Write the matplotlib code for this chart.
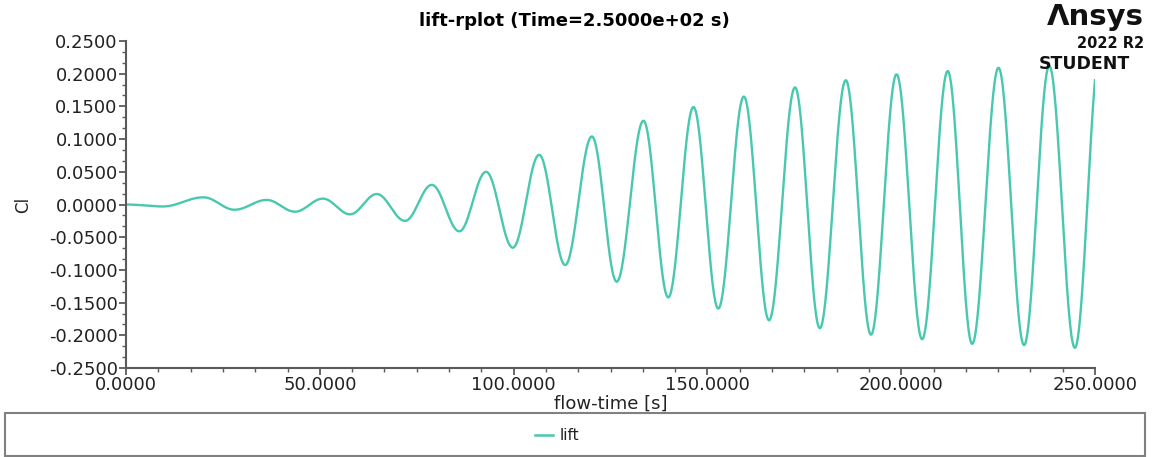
import numpy as np
import matplotlib.pyplot as plt
from matplotlib.patches import Rectangle
from matplotlib.lines import Line2D
from matplotlib.ticker import MultipleLocator, FormatStrFormatter

# extrema of the lift coefficient (time [s], Cl)
ext_time = [0.0, 9.5, 20.0, 28.0, 36.3, 43.6, 50.8, 57.8, 64.7, 72.0, 78.9,
            86.0, 92.9, 99.8, 106.6, 113.3, 120.2, 126.6, 133.5, 139.9, 146.4,
            152.8, 159.4, 165.9, 172.6, 179.0, 185.7, 192.2, 198.8, 205.4,
            212.0, 218.3, 225.1, 231.7, 238.2, 244.8]
ext_cl = [0.0, -0.003, 0.011, -0.008, 0.007, -0.011, 0.009, -0.015, 0.016,
          -0.025, 0.030, -0.041, 0.050, -0.066, 0.076, -0.0925, 0.104, -0.118,
          0.128, -0.142, 0.149, -0.159, 0.165, -0.177, 0.179, -0.189, 0.190,
          -0.199, 0.199, -0.206, 0.204, -0.213, 0.209, -0.215, 0.212, -0.219]
end_time = 250.0
end_cl = 0.190

LINE = "#48c8ae"
AXC = "#5a5a5a"


def smooth_path(ts, vs, t_end, v_end, n=60):
    # join consecutive extrema with half-cosine arcs
    xs, ys = [], []
    for i in range(len(ts) - 1):
        f = np.linspace(0, 1, n, endpoint=False)
        xs.append(ts[i] + f * (ts[i + 1] - ts[i]))
        ys.append(vs[i] + (vs[i + 1] - vs[i]) * (1 - np.cos(np.pi * f)) / 2)
    # last piece stops part way up the next rise
    half = ts[-1] - ts[-2]
    f_end = (t_end - ts[-1]) / half
    lo = vs[-1]
    hi = lo + (v_end - lo) * 2 / (1 - np.cos(np.pi * f_end))
    f = np.linspace(0, f_end, n)
    xs.append(ts[-1] + f * half)
    ys.append(lo + (hi - lo) * (1 - np.cos(np.pi * f)) / 2)
    return np.concatenate(xs), np.concatenate(ys)


x, y = smooth_path(ext_time, ext_cl, end_time, end_cl)

fig = plt.figure(figsize=(11.53, 4.57), dpi=100)
ax = fig.add_axes([0.1093, 0.1947, 0.8404, 0.7156])
ax.plot(x, y, color=LINE, linewidth=1.7)

ax.set_xlim(0, 250)
ax.set_ylim(-0.25, 0.25)
ax.xaxis.set_major_locator(MultipleLocator(50))
ax.xaxis.set_minor_locator(MultipleLocator(50 / 6))
ax.yaxis.set_major_locator(MultipleLocator(0.05))
ax.yaxis.set_minor_locator(MultipleLocator(0.05 / 3))
ax.xaxis.set_major_formatter(FormatStrFormatter("%.4f"))
ax.yaxis.set_major_formatter(FormatStrFormatter("%.4f"))

for s in ("top", "right"):
    ax.spines[s].set_visible(False)
for s in ("left", "bottom"):
    ax.spines[s].set_color(AXC)
    ax.spines[s].set_linewidth(1.5)

ax.tick_params(which="major", length=5, width=1.3, color=AXC,
               labelsize=13, labelcolor="#222222", pad=1)
ax.tick_params(which="minor", length=3, width=1.0, color=AXC)

ax.set_xlabel("flow-time [s]", fontsize=13, color="#222222", labelpad=0)
ax.set_ylabel("Cl", fontsize=12, color="#222222", labelpad=12)

fig.text(0.498, 0.955, "lift-rplot (Time=2.5000e+02 s)", ha="center",
         va="center", fontsize=13, fontweight="bold")

# Ansys logo block
fig.text(0.992, 0.963, "\u039bnsys", ha="right", va="center", fontsize=21,
         fontweight="heavy", color="#111111")
fig.text(0.992, 0.905, "2022 R2", ha="right", va="center", fontsize=10.5,
         fontweight="bold", color="#111111")
fig.text(0.901, 0.860, "STUDENT", ha="left", va="center", fontsize=12.5,
         fontweight="bold", color="#111111")

# legend box under the plot
fig.patches.append(Rectangle((5 / 1153, 0.003), 1140 / 1153, 0.094,
                             transform=fig.transFigure, fill=False,
                             edgecolor="#808080", linewidth=1.5))
fig.lines.append(Line2D([535 / 1153, 553 / 1153], [0.048, 0.048],
                        transform=fig.transFigure, color=LINE, linewidth=1.8))
fig.text(560 / 1153, 0.048, "lift", ha="left", va="center", fontsize=11,
         color="#222222")

fig.savefig("out.png", dpi=100)
